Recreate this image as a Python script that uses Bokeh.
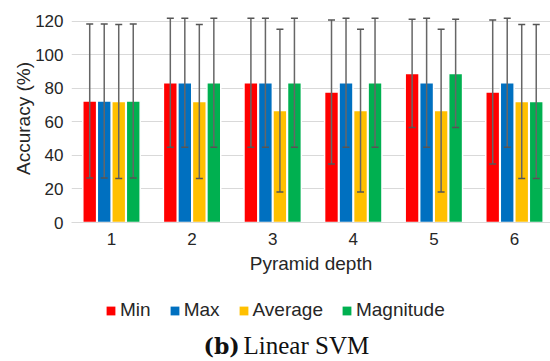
import numpy as np
from bokeh.plotting import figure
from bokeh.layouts import column
from bokeh.models import ColumnDataSource, Whisker, TeeHead, Legend, LegendItem, Label, Range1d
from bokeh.embed import file_html
from bokeh.resources import INLINE

depths = ["1", "2", "3", "4", "5", "6"]
series_names = ["Min", "Max", "Average", "Magnitude"]
min_vals = [72.5, 83.3, 83.3, 77.8, 88.9, 77.8]
max_vals = [72.5, 83.3, 83.3, 83.3, 83.3, 83.3]
avg_vals = [72.2, 72.2, 66.7, 66.7, 66.7, 72.2]
mag_vals = [72.5, 83.3, 83.3, 83.3, 88.9, 72.2]
min_err = [45.9, 38.5, 38.5, 42.9, 32.3, 42.9]
max_err = [45.9, 38.5, 38.5, 38.5, 38.5, 38.5]
avg_err = [45.9, 45.9, 48.5, 48.5, 48.5, 45.9]
mag_err = [45.9, 38.5, 38.5, 38.5, 32.3, 45.9]
colors = ["#FF0000", "#0070C0", "#FFC000", "#00B050"]
y_ticks = [0, 20, 40, 60, 80, 100, 120]
caption_tag = "(b)"
caption_text = "Linear SVM"

FONT = "Liberation Sans"
TXT = "#262626"

# ---------------- main chart ----------------
p = figure(width=550, height=285, x_range=(0.504, 6.447), y_range=(0, 124),
           output_backend="svg", toolbar_location=None,
           min_border_left=71, min_border_right=0, min_border_top=14,
           min_border_bottom=63)
p.outline_line_color = None
p.xgrid.visible = False
p.ygrid.grid_line_color = "#d9d9d9"
p.ygrid.grid_line_width = 1

idx = np.arange(1, len(depths) + 1)
offsets = [-1.5, -0.5, 0.5, 1.5]
step = 0.18
all_vals = [min_vals, max_vals, avg_vals, mag_vals]
all_errs = [min_err, max_err, avg_err, mag_err]

for name, vals, errs, col, off in zip(series_names, all_vals, all_errs, colors, offsets):
    v = np.array(vals, dtype=float)
    e = np.array(errs, dtype=float)
    src = ColumnDataSource(dict(x=idx + off * step, top=v, upper=v + e, lower=v - e))
    p.vbar(x="x", top="top", bottom=0, width=0.172, source=src,
           fill_color=col, line_color="white", line_width=1.5)
    w = Whisker(source=src, base="x", upper="upper", lower="lower",
                line_color="#666666", line_width=1.5, level="overlay",
                upper_head=TeeHead(size=7, line_color="#555555", line_width=1.5),
                lower_head=TeeHead(size=7, line_color="#555555", line_width=1.5))
    p.add_layout(w)

p.yaxis.ticker = y_ticks
p.xaxis.ticker = list(idx)
p.xaxis.major_label_overrides = {int(i): d for i, d in zip(idx, depths)}
for ax in (p.xaxis, p.yaxis):
    ax.major_tick_line_color = None
    ax.minor_tick_line_color = None
    ax.major_tick_out = 0
    ax.major_tick_in = 0
    ax.major_label_text_font = FONT
    ax.major_label_text_font_size = "17px"
    ax.major_label_text_color = TXT
    ax.axis_label_text_font = FONT
    ax.axis_label_text_font_size = "19px"
    ax.axis_label_text_font_style = "normal"
    ax.axis_label_text_color = TXT
p.yaxis.axis_line_color = None
p.xaxis.axis_line_color = "#d9d9d9"
p.yaxis.axis_label = "Accuracy (%)"
p.xaxis.axis_label = "Pyramid depth"
p.yaxis.major_label_standoff = 8
p.yaxis.axis_label_standoff = -2
p.xaxis.major_label_standoff = 10
p.xaxis.axis_label_standoff = 5

# ---------------- legend + caption strip ----------------
# (frame of this strip is aligned with the main chart's frame: left edge at x=71)
q = figure(width=550, height=76, x_range=Range1d(0, 479), y_range=Range1d(0, 76),
           output_backend="svg", toolbar_location=None,
           x_axis_type=None, y_axis_type=None,
           min_border_left=71, min_border_right=0, min_border_top=0,
           min_border_bottom=0)
q.outline_line_color = None
q.grid.visible = False

items = []
for name, col in zip(series_names, colors):
    r = q.vbar(x=list(idx), top=[0] * len(idx), bottom=0, width=0.1,
               fill_color=col, line_color=None)
    items.append(LegendItem(label=name, renderers=[r]))

legend = Legend(items=items, orientation="horizontal", location=(34, 40),
                glyph_width=11, glyph_height=11, label_standoff=4, spacing=18,
                padding=0, margin=0, border_line_color=None,
                background_fill_alpha=0, label_text_font=FONT,
                label_text_font_size="19px", label_text_color=TXT)
q.add_layout(legend)

cap1 = Label(x=132, y=16, x_units="screen", y_units="screen", text=caption_tag,
             text_font="DejaVu Serif", text_font_style="bold",
             text_font_size="22px", text_color="#111111",
             text_baseline="alphabetic")
cap2 = Label(x=172, y=16, x_units="screen", y_units="screen", text=caption_text,
             text_font="Liberation Serif", text_font_size="25px",
             text_color="#111111", text_baseline="alphabetic")
q.add_layout(cap1)
q.add_layout(cap2)

layout = column(p, q, spacing=0)
open("out.html", "w").write(file_html(layout, INLINE))
